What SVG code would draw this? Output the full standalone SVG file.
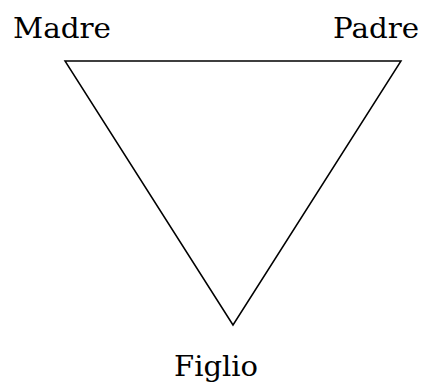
<svg xmlns="http://www.w3.org/2000/svg" width="424" height="385" viewBox="0 0 424 385">
<style>
text{font-family:"DejaVu Serif",serif;font-size:28px;fill:#000}
.edge{fill:none;stroke:#000;stroke-width:1.5}
</style>
<rect width="424" height="385" fill="#fff"/>
<g id="connectors">
<polygon class="edge" points="65,61 401,61 233,325"/>
</g>
<g id="madre"><text x="13" y="38" textLength="98" lengthAdjust="spacingAndGlyphs">Madre</text></g>
<g id="padre"><text x="333" y="38" textLength="86" lengthAdjust="spacingAndGlyphs">Padre</text></g>
<g id="figlio"><text x="174" y="376" textLength="84" lengthAdjust="spacingAndGlyphs">Figlio</text></g>
</svg>
